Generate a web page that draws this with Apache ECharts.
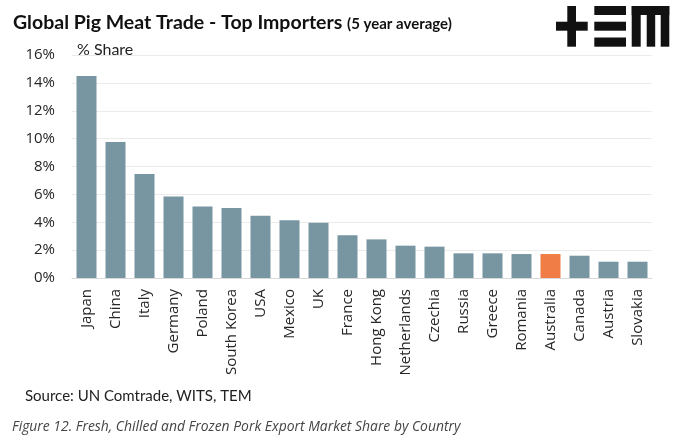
<!DOCTYPE html>
<html>
<head>
<meta charset="utf-8">
<script src="https://cdn.jsdelivr.net/npm/echarts@6/dist/echarts.min.js"></script>
<style>
html,body{margin:0;padding:0;background:#fff;}
#c{width:678px;height:444px;}
</style>
</head>
<body>
<div id="c"></div>
<script>
const categories = ['Japan','China','Italy','Germany','Poland','South Korea','USA','Mexico','UK','France','Hong Kong','Netherlands','Czechia','Russia','Greece','Romania','Australia','Canada','Austria','Slovakia'];
const shares = [14.5,9.75,7.47,5.85,5.13,5.02,4.46,4.15,3.96,3.07,2.77,2.32,2.25,1.77,1.77,1.72,1.72,1.6,1.17,1.17];
const highlight = 'Australia';
const yTicks = [0,2,4,6,8,10,12,14,16];

const BAR = '#7896a2';
const HI = '#f07d45';

const chart = echarts.init(document.getElementById('c'), null, {renderer:'canvas'});
const data = categories.map((c,i)=>({value:shares[i], itemStyle:{color: c===highlight?HI:BAR}}));

function logo(){
  const r = (x,y,w,h)=>({type:'rect',shape:{x,y,width:w,height:h},style:{fill:'#111'}});
  return [
    r(556,21.7,31.7,9), r(567.3,6,8.7,40.7),
    r(594.3,6,31.7,9), r(594.3,21.7,31.7,9), r(594.3,37.5,31.7,9.2),
    r(631.7,6,37.6,9), r(631.7,6,9,40.7), r(646.7,6,8.5,40.7), r(660.7,6,8.6,40.7)
  ];
}
const OS = 'Open Sans';

chart.setOption({
  animation:false,
  grid:{left:72,right:26,top:55,bottom:166,containLabel:false},
  title:[
    {text:'Global Pig Meat Trade - Top Importers {s|(5 year average)}',left:8,top:8,
     textStyle:{fontFamily:'Lato',fontWeight:'bold',fontSize:19.5,color:'#111',
       rich:{s:{fontFamily:'Lato',fontWeight:'bold',fontSize:15,color:'#111',padding:[3,0,0,0]}}}},
    {text:'% Share',left:72,top:37,textStyle:{fontFamily:'Lato',fontWeight:'normal',fontSize:16,color:'#222'}},
    {text:'Source: UN Comtrade, WITS, TEM',left:20,top:384,textStyle:{fontFamily:'Lato',fontWeight:'normal',fontSize:15,color:'#222'}},
    {text:'Figure 12. Fresh, Chilled and Frozen Pork Export Market Share by Country',left:7,top:415,textStyle:{fontFamily:OS,fontStyle:'italic',fontWeight:'normal',fontSize:13.9,color:'#444'}}
  ],
  xAxis:{type:'category',data:categories,
    axisLine:{lineStyle:{color:'#d9d9d9',width:1}},axisTick:{show:false},
    axisLabel:{rotate:90,interval:0,margin:11,fontFamily:OS,fontSize:15,color:'#262626'}},
  yAxis:{type:'value',min:0,max:16,interval:2,
    axisLabel:{formatter:v=>v+'%',fontFamily:OS,fontSize:15,color:'#262626',margin:17},
    axisLine:{show:false},axisTick:{show:false},
    splitLine:{lineStyle:{color:'#ebebeb',width:1}}},
  series:[{type:'bar',data:data,barCategoryGap:'31%'}],
  graphic:logo()
});
</script>
</body>
</html>
